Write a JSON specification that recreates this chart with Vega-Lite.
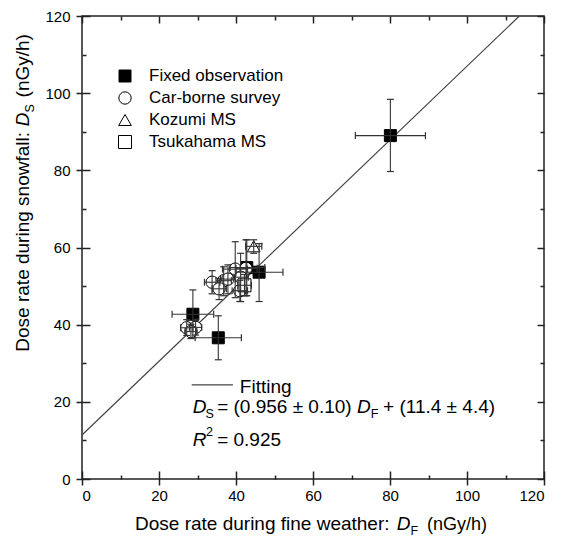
{
  "$schema": "https://vega.github.io/schema/vega-lite/v6.json",
  "width": 462,
  "height": 463,
  "autosize": {"type": "none"},
  "padding": {"left": 82, "top": 16, "right": 18, "bottom": 60},
  "background": "white",
  "config": {
    "view": {"stroke": "#222", "strokeWidth": 1.5},
    "font": "Liberation Sans",
    "axis": {"domain": false, "grid": false, "tickColor": "#222", "tickWidth": 1.5, "labelFont": "Liberation Sans", "labelFontSize": 15, "labelColor": "#000"},
    "text": {"font": "Liberation Sans", "color": "#000"}
  },
  "resolve": {"axis": {"x": "independent", "y": "independent"}},
  "datasets": {
    "fit": [{"x": 0, "y": 11.4, "x2": 113.6, "y2": 120}],
    "sample": [{"x": 28.5, "y": 24.4, "x2": 39.2}],
    "points": [
      {"type": "Fixed observation", "x": 28.8, "y": 42.7, "xlo": 23.4, "xhi": 34.2, "ylo": 36.6, "yhi": 49.0},
      {"type": "Fixed observation", "x": 35.4, "y": 36.6, "xlo": 29.4, "xhi": 41.4, "ylo": 30.9, "yhi": 42.3},
      {"type": "Fixed observation", "x": 46.0, "y": 53.6, "xlo": 40.0, "xhi": 52.2, "ylo": 46.0, "yhi": 61.0},
      {"type": "Fixed observation", "x": 42.8, "y": 54.8, "xlo": 38.5, "xhi": 47.5, "ylo": 47.5, "yhi": 62.0},
      {"type": "Fixed observation", "x": 80.1, "y": 89.0, "xlo": 71.0, "xhi": 89.2, "ylo": 79.7, "yhi": 98.4},
      {"type": "Car-borne survey", "x": 27.2, "y": 39.2, "xlo": 25.6, "xhi": 28.8, "ylo": 37.2, "yhi": 41.3},
      {"type": "Car-borne survey", "x": 29.5, "y": 39.3, "xlo": 27.9, "xhi": 31.1, "ylo": 37.3, "yhi": 41.4},
      {"type": "Car-borne survey", "x": 28.3, "y": 38.2, "xlo": 26.8, "xhi": 29.8, "ylo": 36.4, "yhi": 40.1},
      {"type": "Car-borne survey", "x": 33.8, "y": 51.0, "xlo": 31.8, "xhi": 35.8, "ylo": 48.0, "yhi": 54.0},
      {"type": "Car-borne survey", "x": 36.8, "y": 51.4, "xlo": 34.8, "xhi": 38.8, "ylo": 47.5, "yhi": 55.0},
      {"type": "Car-borne survey", "x": 35.6, "y": 49.3, "xlo": 33.8, "xhi": 37.5, "ylo": 46.5, "yhi": 52.0},
      {"type": "Car-borne survey", "x": 39.8, "y": 54.4, "xlo": 36.5, "xhi": 43.0, "ylo": 47.0, "yhi": 61.5},
      {"type": "Car-borne survey", "x": 42.6, "y": 54.6, "xlo": 40.0, "xhi": 45.5, "ylo": 47.5, "yhi": 62.0},
      {"type": "Car-borne survey", "x": 41.2, "y": 52.3, "xlo": 39.2, "xhi": 43.2, "ylo": 46.0, "yhi": 58.5},
      {"type": "Car-borne survey", "x": 37.9, "y": 51.8, "xlo": 36.0, "xhi": 39.8, "ylo": 48.0, "yhi": 55.5},
      {"type": "Car-borne survey", "x": 41.0, "y": 48.8, "xlo": 39.0, "xhi": 43.0, "ylo": 46.0, "yhi": 51.5},
      {"type": "Kozumi MS", "x": 44.6, "y": 60.3, "xlo": 42.5, "xhi": 46.7, "ylo": 58.5, "yhi": 62.0},
      {"type": "Tsukahama MS", "x": 42.2, "y": 50.2, "xlo": 40.5, "xhi": 44.0, "ylo": 47.5, "yhi": 53.0}
    ],
    "txt_normal": [
      {"x": 41.0, "y": 22.3, "t": "Fitting"},
      {"x": 35.1, "y": 17.1, "t": "= (0.956 ± 0.10)"},
      {"x": 78.2, "y": 17.1, "t": "+ (11.4 ± 4.4)"},
      {"x": 35.1, "y": 8.6, "t": "= 0.925"},
      {"x": 13.77, "y": -13.25, "t": "Dose rate during fine weather:"}
    ],
    "txt_title": [
      {"x": 89.6, "y": -13.25, "t": "(nGy/h)"}
    ],
    "txt_italic": [
      {"x": 28.75, "y": 17.1, "t": "D"},
      {"x": 71.4, "y": 17.1, "t": "D"},
      {"x": 28.75, "y": 8.6, "t": "R"},
      {"x": 81.74, "y": -13.25, "t": "D"}
    ],
    "txt_sub": [
      {"x": 32.1, "y": 15.8, "t": "S"},
      {"x": 75.0, "y": 15.8, "t": "F"},
      {"x": 32.2, "y": 11.2, "t": "2"},
      {"x": 85.3, "y": -14.5, "t": "F"}
    ],
    "ytxt_normal": [
      {"x": -13.8, "y": 33.0, "t": "Dose rate during snowfall:"},
      {"x": -13.8, "y": 98.9, "t": "(nGy/h)"}
    ],
    "ytxt_italic": [
      {"x": -13.8, "y": 91.4, "t": "D"}
    ],
    "ytxt_sub": [
      {"x": -12.5, "y": 95.0, "t": "S"}
    ]
  },
  "layer": [
    {
      "data": {"name": "fit"},
      "mark": {"type": "rule", "color": "#444", "strokeWidth": 1.2},
      "encoding": {
        "x": {"field": "x", "type": "quantitative", "scale": {"domain": [0, 120], "nice": false, "zero": false}, "axis": {"orient": "bottom", "values": [0, 20, 40, 60, 80, 100, 120], "offset": -8, "tickSize": 14, "labelPadding": 3, "title": null}},
        "x2": {"field": "x2"},
        "y": {"field": "y", "type": "quantitative", "scale": {"domain": [0, 120], "nice": false, "zero": false}, "axis": {"orient": "left", "values": [0, 20, 40, 60, 80, 100, 120], "offset": -8, "tickSize": 14, "labelPadding": 6, "title": null}},
        "y2": {"field": "y2"}
      }
    },
    {
      "data": {"name": "sample"},
      "mark": {"type": "rule", "color": "#444", "strokeWidth": 1.2},
      "encoding": {
        "x": {"field": "x", "type": "quantitative", "scale": {"domain": [0, 120], "nice": false, "zero": false}, "axis": {"orient": "bottom", "values": [10, 30, 50, 70, 90, 110], "offset": -4, "tickSize": 4, "labels": false, "title": null}},
        "x2": {"field": "x2"},
        "y": {"field": "y", "type": "quantitative", "scale": {"domain": [0, 120], "nice": false, "zero": false}, "axis": {"orient": "left", "values": [10, 30, 50, 70, 90, 110], "offset": -4, "tickSize": 4, "labels": false, "title": null}}
      }
    },
    {
      "data": {"name": "txt_normal"},
      "mark": {"type": "text", "fontSize": 19, "align": "left", "baseline": "alphabetic"},
      "encoding": {
        "x": {"field": "x", "type": "quantitative", "scale": {"domain": [0, 120], "nice": false, "zero": false}, "axis": {"orient": "top", "values": [0, 20, 40, 60, 80, 100, 120], "offset": -7, "tickSize": 7, "labels": false, "title": null}},
        "y": {"field": "y", "type": "quantitative", "scale": {"domain": [0, 120], "nice": false, "zero": false}, "axis": {"orient": "right", "values": [0, 20, 40, 60, 80, 100, 120], "offset": -7, "tickSize": 7, "labels": false, "title": null}},
        "text": {"field": "t"}
      }
    },
    {
      "data": {"name": "txt_italic"},
      "mark": {"type": "text", "fontSize": 19, "fontStyle": "italic", "align": "left", "baseline": "alphabetic"},
      "encoding": {
        "x": {"field": "x", "type": "quantitative", "scale": {"domain": [0, 120], "nice": false, "zero": false}, "axis": {"orient": "top", "values": [10, 30, 50, 70, 90, 110], "offset": -4, "tickSize": 4, "labels": false, "title": null}},
        "y": {"field": "y", "type": "quantitative", "scale": {"domain": [0, 120], "nice": false, "zero": false}, "axis": {"orient": "right", "values": [10, 30, 50, 70, 90, 110], "offset": -4, "tickSize": 4, "labels": false, "title": null}},
        "text": {"field": "t"}
      }
    },
    {
      "data": {"name": "txt_title"},
      "mark": {"type": "text", "fontSize": 18, "align": "left", "baseline": "alphabetic"},
      "encoding": {
        "x": {"field": "x", "type": "quantitative", "scale": {"domain": [0, 120], "nice": false, "zero": false}, "axis": null},
        "y": {"field": "y", "type": "quantitative", "scale": {"domain": [0, 120], "nice": false, "zero": false}, "axis": null},
        "text": {"field": "t"}
      }
    },
    {
      "data": {"name": "txt_sub"},
      "mark": {"type": "text", "fontSize": 12.5, "align": "left", "baseline": "alphabetic"},
      "encoding": {
        "x": {"field": "x", "type": "quantitative", "scale": {"domain": [0, 120], "nice": false, "zero": false}, "axis": null},
        "y": {"field": "y", "type": "quantitative", "scale": {"domain": [0, 120], "nice": false, "zero": false}, "axis": null},
        "text": {"field": "t"}
      }
    },
    {
      "data": {"name": "ytxt_normal"},
      "mark": {"type": "text", "fontSize": 19, "align": "left", "baseline": "alphabetic", "angle": 270},
      "encoding": {
        "x": {"field": "x", "type": "quantitative", "scale": {"domain": [0, 120], "nice": false, "zero": false}, "axis": null},
        "y": {"field": "y", "type": "quantitative", "scale": {"domain": [0, 120], "nice": false, "zero": false}, "axis": null},
        "text": {"field": "t"}
      }
    },
    {
      "data": {"name": "ytxt_italic"},
      "mark": {"type": "text", "fontSize": 19, "fontStyle": "italic", "align": "left", "baseline": "alphabetic", "angle": 270},
      "encoding": {
        "x": {"field": "x", "type": "quantitative", "scale": {"domain": [0, 120], "nice": false, "zero": false}, "axis": null},
        "y": {"field": "y", "type": "quantitative", "scale": {"domain": [0, 120], "nice": false, "zero": false}, "axis": null},
        "text": {"field": "t"}
      }
    },
    {
      "data": {"name": "ytxt_sub"},
      "mark": {"type": "text", "fontSize": 12.5, "align": "left", "baseline": "alphabetic", "angle": 270},
      "encoding": {
        "x": {"field": "x", "type": "quantitative", "scale": {"domain": [0, 120], "nice": false, "zero": false}, "axis": null},
        "y": {"field": "y", "type": "quantitative", "scale": {"domain": [0, 120], "nice": false, "zero": false}, "axis": null},
        "text": {"field": "t"}
      }
    },
    {
      "data": {"name": "points"},
      "mark": {"type": "point", "stroke": "#000", "strokeWidth": 1, "opacity": 1},
      "encoding": {
        "x": {"field": "x", "type": "quantitative", "scale": {"domain": [0, 120], "nice": false, "zero": false}, "axis": null},
        "y": {"field": "y", "type": "quantitative", "scale": {"domain": [0, 120], "nice": false, "zero": false}, "axis": null},
        "shape": {"field": "type", "type": "nominal", "scale": {"domain": ["Fixed observation", "Car-borne survey", "Kozumi MS", "Tsukahama MS"], "range": ["square", "circle", "triangle-up", "square"]},
          "legend": {"orient": "none", "legendX": 34.5, "legendY": 51.5, "title": null, "labelFontSize": 17, "labelFont": "Liberation Sans", "labelColor": "#000", "labelOffset": 15.5, "rowPadding": 4, "padding": 0, "symbolStrokeColor": "#000", "symbolStrokeWidth": 1, "symbolOpacity": 1}},
        "fill": {"field": "type", "type": "nominal", "scale": {"domain": ["Fixed observation", "Car-borne survey", "Kozumi MS", "Tsukahama MS"], "range": ["#000", "#fff", "#fff", "#fff"]}},
        "size": {"field": "type", "type": "nominal", "scale": {"domain": ["Fixed observation", "Car-borne survey", "Kozumi MS", "Tsukahama MS"], "range": [144, 169, 144, 81]}}
      }
    },
    {
      "data": {"name": "points"},
      "mark": {"type": "rule", "color": "#333", "strokeWidth": 1.1},
      "encoding": {
        "x": {"field": "x", "type": "quantitative", "scale": {"domain": [0, 120], "nice": false, "zero": false}, "axis": null},
        "y": {"field": "ylo", "type": "quantitative", "scale": {"domain": [0, 120], "nice": false, "zero": false}, "axis": null},
        "y2": {"field": "yhi"}
      }
    },
    {
      "data": {"name": "points"},
      "mark": {"type": "rule", "color": "#333", "strokeWidth": 1.1},
      "encoding": {
        "x": {"field": "xlo", "type": "quantitative", "scale": {"domain": [0, 120], "nice": false, "zero": false}, "axis": null},
        "x2": {"field": "xhi"},
        "y": {"field": "y", "type": "quantitative", "scale": {"domain": [0, 120], "nice": false, "zero": false}, "axis": null}
      }
    },
    {
      "data": {"name": "points"},
      "mark": {"type": "tick", "orient": "horizontal", "size": 7, "thickness": 1.2, "color": "#333", "opacity": 1},
      "encoding": {
        "x": {"field": "x", "type": "quantitative", "scale": {"domain": [0, 120], "nice": false, "zero": false}, "axis": null},
        "y": {"field": "ylo", "type": "quantitative", "scale": {"domain": [0, 120], "nice": false, "zero": false}, "axis": null}
      }
    },
    {
      "data": {"name": "points"},
      "mark": {"type": "tick", "orient": "horizontal", "size": 7, "thickness": 1.2, "color": "#333", "opacity": 1},
      "encoding": {
        "x": {"field": "x", "type": "quantitative", "scale": {"domain": [0, 120], "nice": false, "zero": false}, "axis": null},
        "y": {"field": "yhi", "type": "quantitative", "scale": {"domain": [0, 120], "nice": false, "zero": false}, "axis": null}
      }
    },
    {
      "data": {"name": "points"},
      "mark": {"type": "tick", "orient": "vertical", "size": 7, "thickness": 1.2, "color": "#333", "opacity": 1},
      "encoding": {
        "x": {"field": "xlo", "type": "quantitative", "scale": {"domain": [0, 120], "nice": false, "zero": false}, "axis": null},
        "y": {"field": "y", "type": "quantitative", "scale": {"domain": [0, 120], "nice": false, "zero": false}, "axis": null}
      }
    },
    {
      "data": {"name": "points"},
      "mark": {"type": "tick", "orient": "vertical", "size": 7, "thickness": 1.2, "color": "#333", "opacity": 1},
      "encoding": {
        "x": {"field": "xhi", "type": "quantitative", "scale": {"domain": [0, 120], "nice": false, "zero": false}, "axis": null},
        "y": {"field": "y", "type": "quantitative", "scale": {"domain": [0, 120], "nice": false, "zero": false}, "axis": null}
      }
    }
  ]
}
